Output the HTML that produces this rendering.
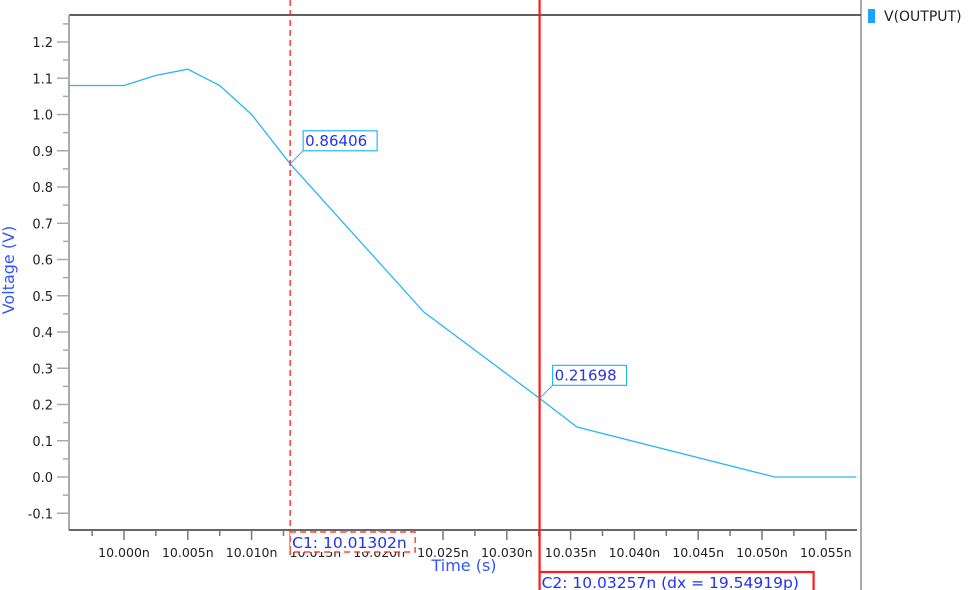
<!DOCTYPE html>
<html><head><meta charset="utf-8">
<style>
html,body{margin:0;padding:0;background:#fff;}
svg{display:block;font-family:"DejaVu Sans","Liberation Sans",sans-serif;}
</style></head>
<body>
<svg id="chart" width="973" height="590" viewBox="0 0 973 590">
  <line x1="69" y1="15" x2="861" y2="15" stroke="#000" stroke-width="1.2"/>
  <line x1="861" y1="0" x2="861" y2="590" stroke="#555" stroke-width="1"/>
  <line x1="69" y1="15" x2="69" y2="530" stroke="#aaa" stroke-width="2"/>
  <line x1="69" y1="530" x2="857" y2="530" stroke="#666" stroke-width="2"/>
  <g id="yticks"></g>
  <g id="xticks"></g>
  <text x="14" y="270" fill="#3355ff" font-size="16" text-anchor="middle" transform="rotate(-90 14 270)">Voltage (V)</text>
  <g id="series"></g>
  <g id="cursors"></g>
  <text x="464" y="571" fill="#3355ff" font-size="16" text-anchor="middle">Time (s)</text>
  <rect x="868" y="9" width="7" height="14" fill="#1aa3ff"/>
  <text x="884" y="21" fill="#222" font-size="14">V(OUTPUT)</text>
</svg>
<script>
// data (time in ps offset from 10.000n, voltage in V)
const times = [-4.3, 0, 2.5, 5, 7.5, 10, 13.02, 23.5, 32.57, 35.5, 51, 57.4];
const volts = [1.08, 1.08, 1.108, 1.125, 1.08, 1.0, 0.864, 0.455, 0.217, 0.138, 0.0, 0.0];
const yTicks = [-0.1, 0.0, 0.1, 0.2, 0.3, 0.4, 0.5, 0.6, 0.7, 0.8, 0.9, 1.0, 1.1, 1.2];
const xTicks = [0, 5, 10, 15, 20, 25, 30, 35, 40, 45, 50, 55];
const xTickLabels = ["10.000n","10.005n","10.010n","10.015n","10.020n","10.025n","10.030n","10.035n","10.040n","10.045n","10.050n","10.055n"];
const cursorTimes = [13.02, 32.57];
const cursorValues = [0.86406, 0.21698];
const cursorLabels = ["C1: 10.01302n", "C2: 10.03257n (dx = 19.54919p)"];

const NS = "http://www.w3.org/2000/svg";
const xs = t => 124 + (t) * 12.76;
const ys = v => 477 - 362.5 * v;
function mk(tag, attrs, parent, text){
  const e = document.createElementNS(NS, tag);
  for (const k in attrs) e.setAttribute(k, attrs[k]);
  if (text !== undefined) e.textContent = text;
  parent.appendChild(e);
  return e;
}
const yg = document.getElementById('yticks');
yTicks.forEach((v,i)=>{
  const y = ys(v);
  const t = mk('line',{x1:57,y1:y,x2:69,y2:y,stroke:'#aaa','stroke-width':1.5},yg);
  
  
  const m = mk('line',{x1:63,y1:ys(v+0.05),x2:69,y2:ys(v+0.05),stroke:'#aaa','stroke-width':1.5},yg);
  
  
  const l = mk('text',{x:53,y:y+5,'font-size':13,'text-anchor':'end',fill:'#222'},yg,v.toFixed(1));
  
  
});
const xg = document.getElementById('xticks');
xTicks.forEach((p,i)=>{
  const x = xs(p);
  const t = mk('line',{x1:x,y1:530,x2:x,y2:540,stroke:'#777','stroke-width':1.5},xg);
  
  
  const m = mk('line',{x1:xs(p-2.5),y1:530,x2:xs(p-2.5),y2:536,stroke:'#777','stroke-width':1.5},xg);
  
  
  const l = mk('text',{x:x,y:557,'font-size':12.5,'text-anchor':'middle',fill:'#222'},xg,xTickLabels[i]);
  
  
});
const sg = document.getElementById('series');
const pl = mk('polyline',{points:times.map((t,i)=>xs(t)+','+ys(volts[i])).join(' '),fill:'none',stroke:'#29b6f6','stroke-width':1.3},sg);



const cg = document.getElementById('cursors');
cursorTimes.forEach((t,i)=>{
  const x = xs(t), y = ys(cursorValues[i]);
  const ln = mk('line',{x1:x,y1:0,x2:x,y2:i===0?555:590,stroke:'#ff1a1a','stroke-width':i===0?1.3:2.2,'stroke-dasharray':i===0?'6,4':'none'},cg);
  
  
  const bx = x + 13, by = y - 33;
  const lead = mk('line',{x1:x,y1:y,x2:bx,y2:by+20,stroke:'#29b6f6','stroke-width':1},cg);
  
  
  const vb = mk('rect',{x:bx,y:by,width:74,height:20,fill:'#fff',stroke:'#29b6f6','stroke-width':1.2},cg);
  
  
  const vt = mk('text',{x:bx+2,y:by+15,'font-size':15,fill:'#2233ee'},cg,cursorValues[i].toFixed(5));
  
  
  const w = i===0?125:274, ly = i===0?532:572;
  const cb = mk('rect',{x:x,y:ly,width:w,height:i===0?20:22,fill:'#fff',stroke:'#ff1a1a','stroke-width':i===0?1.2:2.2,'stroke-dasharray':i===0?'6,4':'none'},cg);
  
  
  const ct = mk('text',{x:x+2,y:ly+16,'font-size':15.5,fill:'#2233ee'},cg,cursorLabels[i]);
  
  
});
</script>
</body></html>
